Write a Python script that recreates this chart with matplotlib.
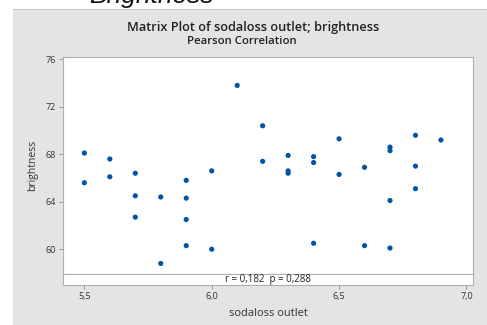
import matplotlib
matplotlib.use("Agg")
import matplotlib.pyplot as plt
from matplotlib.patches import Rectangle
from matplotlib.lines import Line2D

# ---- data ----
sodaloss_outlet = [5.5, 5.5, 5.6, 5.6, 5.7, 5.7, 5.7, 5.8, 5.8, 5.9, 5.9, 5.9, 5.9,
                   6.0, 6.0, 6.1, 6.2, 6.2, 6.3, 6.3, 6.3, 6.4, 6.4, 6.4, 6.5, 6.5,
                   6.6, 6.6, 6.7, 6.7, 6.7, 6.7, 6.8, 6.8, 6.8, 6.9]
brightness = [68.1, 65.6, 67.6, 66.1, 66.4, 64.5, 62.7, 64.4, 58.8, 65.8, 64.3, 62.5, 60.3,
              66.6, 60.0, 73.8, 70.4, 67.4, 67.9, 66.6, 66.4, 67.8, 67.3, 60.5, 69.3, 66.3,
              66.9, 60.3, 68.6, 68.3, 64.1, 60.1, 69.6, 67.0, 65.1, 69.2]
x_ticks = [5.5, 6.0, 6.5, 7.0]
x_tick_labels = ["5,5", "6,0", "6,5", "7,0"]
y_ticks = [60, 64, 68, 72, 76]
y_tick_labels = ["60", "64", "68", "72", "76"]
title = "Matrix Plot of sodaloss outlet; brightness"
subtitle = "Pearson Correlation"
corr_text = "r = 0,182  p = 0,288"

W, H = 487, 325
fig = plt.figure(figsize=(W / 100, H / 100), dpi=100)
fig.patch.set_facecolor("white")
plt.rcParams["font.family"] = ["Open Sans", "DejaVu Sans"]

# gray panel (behind the axes)
fig.patches.append(Rectangle((13 / W, 0), 1 - 13 / W, 1 - 9 / H, transform=fig.transFigure,
                             facecolor="#e4e4e4", edgecolor="none", zorder=-2))
fig.lines.append(Line2D([13 / W, 1], [1 - 9 / H, 1 - 9 / H], transform=fig.transFigure,
                        color="#c8c8c8", lw=0.8, zorder=-1))

# heading above, cut off at the top edge as in the reference
fig.text(152 / W, 1 - 3 / H, "Brightness", ha="center", va="baseline", fontsize=19,
         style="italic", family=["Liberation Sans", "DejaVu Sans"], color="#111111")

fig.text(253 / W, 1 - 27 / H, title, ha="center", va="center", fontsize=9.2,
         fontweight="semibold", color="#222222")
fig.text(242 / W, 1 - 41.5 / H, subtitle, ha="center", va="center", fontsize=8.2,
         fontweight="semibold", color="#222222")

left = 62.7 / W
width = (473.3 - 62.7) / W
ax = fig.add_axes([left, 1 - 274 / H, width, (274 - 56.7) / H])
axs = fig.add_axes([left, 1 - 285 / H, width, 11 / H], sharex=ax)

xlim = (5.415, 7.027)
ax.set_xlim(*xlim)
ax.set_ylim(57.91, 76.22)
ax.scatter(sodaloss_outlet, brightness, s=14, color="#0055a6", edgecolors="none", zorder=3)

ax.set_yticks(y_ticks)
ax.set_yticklabels(y_tick_labels)
ax.tick_params(axis="y", direction="out", length=3, width=0.6, color="#888888",
               labelsize=6.5, labelcolor="#333333", pad=2)
ax.tick_params(axis="x", bottom=False, labelbottom=False)
for sp in ax.spines.values():
    sp.set_color("#b0b0b0")
    sp.set_linewidth(0.8)
ax.set_ylabel("brightness", fontsize=7.5, color="#333333", labelpad=5)

axs.set_yticks([])
axs.set_xticks(x_ticks)
axs.set_xticklabels(x_tick_labels)
axs.tick_params(axis="x", direction="out", length=3, width=0.6, color="#888888",
                labelsize=6.5, labelcolor="#333333", pad=2)
for sp in axs.spines.values():
    sp.set_color("#b0b0b0")
    sp.set_linewidth(0.8)
axs.text(0.5, 0.5, corr_text, transform=axs.transAxes, ha="center", va="center",
         fontsize=7, color="#222222")
axs.set_xlabel("sodaloss outlet", fontsize=8, color="#333333", labelpad=5)

fig.savefig("out.png", dpi=100, facecolor=fig.get_facecolor())
